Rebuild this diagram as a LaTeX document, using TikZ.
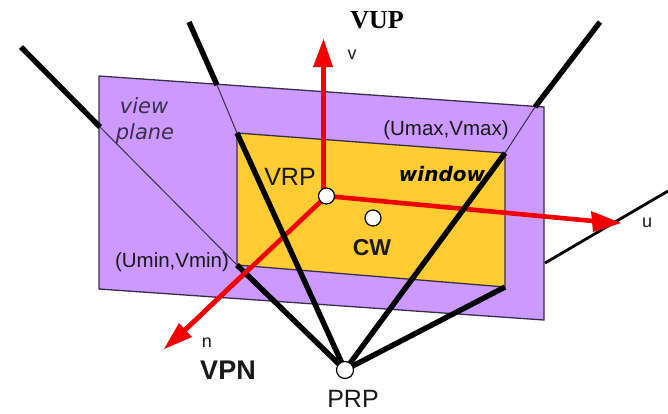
\documentclass[tikz,border=0pt]{standalone}
\usepackage{fontspec}
\setmainfont{Liberation Sans}
\newfontfamily\serifbold{Liberation Serif}
\newfontfamily\dejavu{DejaVu Sans}
\definecolor{planecol}{HTML}{CC99FF}
\definecolor{wincol}{HTML}{FFCC33}
\definecolor{edgecol}{HTML}{3A2F4A}
\definecolor{redcol}{HTML}{F00000}
\tikzset{
  surface/.style={draw=edgecol,line width=1.3pt,line join=miter},
  thickray/.style={draw=black,line width=5.4pt},
  medray/.style={draw=black,line width=2.8pt},
  thinray/.style={draw=edgecol,line width=1pt},
  axisline/.style={draw=redcol,line width=4.6pt},
  axishead/.style={fill=redcol,draw=none},
  dot/.style={circle,draw=black,fill=white,line width=1.2pt,minimum size=16pt,inner sep=0pt},
  lbl/.style={inner sep=0pt,text=black!90},
  smalllbl/.style={lbl,font=\fontsize{18}{20}\selectfont},
  coordlbl/.style={lbl,font=\fontsize{20.5}{22}\selectfont},
  biglbl/.style={lbl,font=\fontsize{25}{27}\selectfont},
  ital/.style={lbl,font=\dejavu\itshape\fontsize{21}{23}\selectfont,text=edgecol},
}
\begin{document}
\begin{tikzpicture}[x=1pt,y=-1pt]
\useasboundingbox (0,0) rectangle (668,413);
% plane and window
\coordinate (p1) at (99,76);
\coordinate (p2) at (544,107);
\coordinate (p3) at (544,320);
\coordinate (p4) at (99,289);
\coordinate (w1) at (237,133);
\coordinate (w2) at (505,153);
\coordinate (w3) at (505,287);
\coordinate (w4) at (237,265);
\coordinate (prp) at (345,370);
\coordinate (vrp) at (326.5,196);
\coordinate (cw) at (373,218);
\coordinate (r1a) at (21,47);
\coordinate (r1b) at (100,127);
\coordinate (r2a) at (189,22);
\coordinate (r2b) at (217,85);
\coordinate (r3a) at (600,22);
\coordinate (r3b) at (535,107);
\coordinate (r4a) at (545,263);
\coordinate (r4b) at (668,191);
\coordinate (vtip) at (323.5,39);
\coordinate (vroot) at (323.5,196);
\coordinate (vbase) at (323.5,66);
\coordinate (ntip) at (164,349);
\coordinate (nbase) at (184,331);
\coordinate (ncross) at (250,268);
\coordinate (utip) at (621,223);
\coordinate (ubase) at (593,221);
\draw[surface,fill=planecol] (p1)--(p2)--(p3)--(p4)--cycle;
\draw[surface,fill=wincol] (w1)--(w2)--(w3)--(w4)--cycle;
% light rays
\draw[thinray] (r1b)--(w4);
\draw[thinray] (r2b)--(w1);
\draw[thinray] (r3b)--(w2);
\draw[thickray] (r1a)--(r1b);
\draw[thickray] (r2a)--(r2b);
\draw[thickray] (r3a)--(r3b);
\draw[medray] (r4a)--(r4b);
% axes
\draw[axisline] (vrp)--(ubase);
\fill[axishead] (utip)--(591,211)--(593,232)--cycle;
\draw[axisline] (vrp)--(nbase);
\fill[axishead] (ntip)--(179,323)--(192,337)--cycle;
% rays to PRP
\draw[thickray] (w4)--(prp);
\draw[thickray] (w1)--(prp);
\draw[thickray] (w2)--(prp);
\draw[thickray] (w3)--(prp);
\draw[axisline] (vroot)--(vbase);
\fill[axishead] (vtip)--(313,67)--(333,67)--cycle;
\draw[axisline] (ncross)--(nbase);
% points
\node[dot] (vrpdot) at (vrp) {};
\node[dot] (cwdot) at (cw) {};
\node[dot,minimum size=17pt] (prpdot) at (prp) {};
% labels
\node[lbl,font=\serifbold\bfseries\fontsize{26}{28}\selectfont,text=black] (tvup) at (377,20) {VUP};
\node[smalllbl] (tv) at (352,55) {v};
\node[smalllbl] (tn) at (207,343) {n};
\node[smalllbl] (tu) at (647,223) {u};
\node[biglbl,font=\bfseries\fontsize{27}{29}\selectfont] (tvpn) at (228,370) {VPN};
\node[biglbl] (tprp) at (353,399) {PRP};
\node[biglbl] (tvrp) at (290,177) {VRP};
\node[biglbl,font=\bfseries\fontsize{23}{25}\selectfont] (tcw) at (372,248) {CW};
\node[ital] (tview) at (144,106) {view};
\node[ital] (tplane) at (145,134) {plane};
\node[lbl,font=\dejavu\bfseries\itshape\fontsize{20}{22}\selectfont,text=black] (twin) at (442,174) {window};
\node[coordlbl] (tmax) at (446,130) {(Umax,Vmax)};
\node[coordlbl] (tmin) at (172,262) {(Umin,Vmin)};
\end{tikzpicture}
\end{document}
